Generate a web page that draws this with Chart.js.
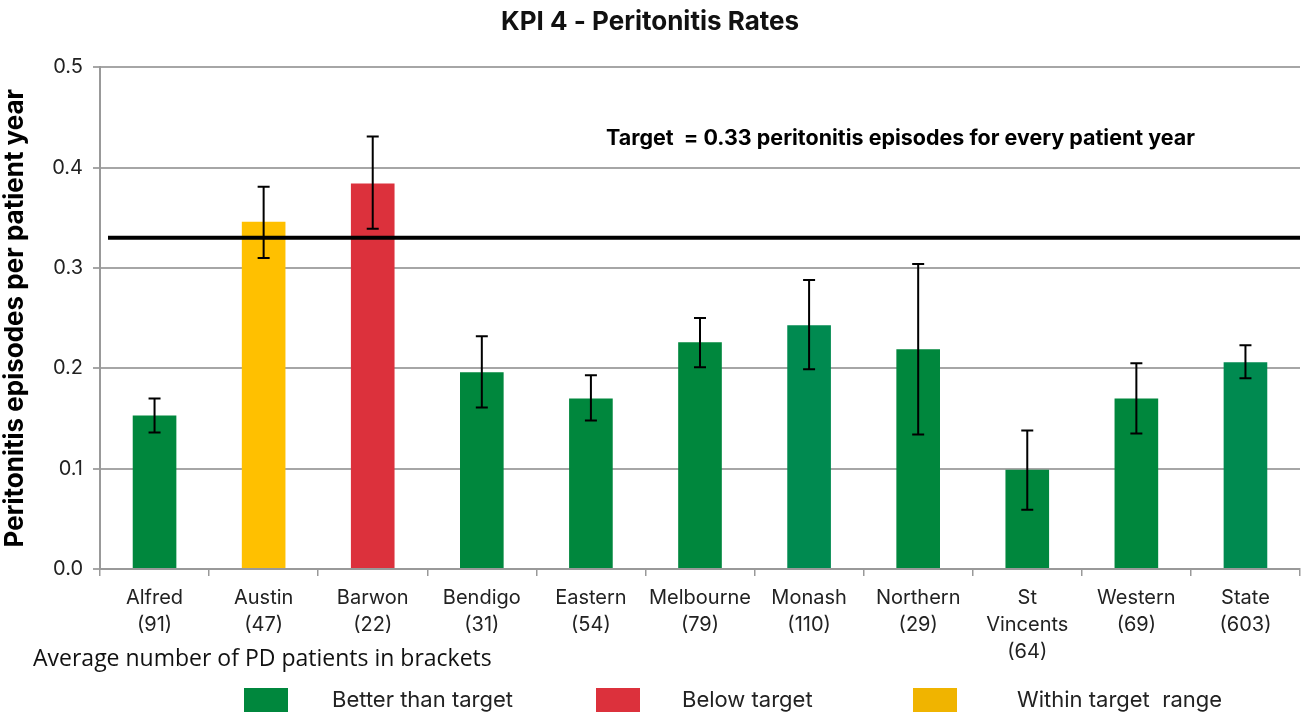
<!DOCTYPE html>
<html>
<head>
<meta charset="utf-8">
<script src="https://cdn.jsdelivr.net/npm/chart.js@4.4.0/dist/chart.umd.min.js"></script>
<style>
  body { margin: 0; background: #fff; }
  #wrap { position: relative; width: 1303px; height: 713px; }
  #note { position: absolute; left: 33px; top: 641px; font: 23px "Liberation Sans Narrow", "Open Sans", sans-serif; color: #111; }
  .key { position: absolute; top: 688px; width: 44px; height: 24px; }
  .keyText { position: absolute; top: 686px; font: 22px Inter, sans-serif; color: #222; }
</style>
</head>
<body>
<div id="wrap">
  <canvas id="kpiChart" width="1303" height="713"></canvas>
  <div id="note">Average number of PD patients in brackets</div>
  <div class="key" style="left:244px;background:#00873D"></div>
  <div class="keyText" style="left:332px">Better than target</div>
  <div class="key" style="left:596px;background:#DC313C"></div>
  <div class="keyText" style="left:682px">Below target</div>
  <div class="key" style="left:913px;background:#F0B400"></div>
  <div class="keyText" style="left:1017px">Within target&nbsp; range</div>
</div>
<script>
const units = ['Alfred', 'Austin', 'Barwon', 'Bendigo', 'Eastern', 'Melbourne', 'Monash', 'Northern', 'St Vincents', 'Western', 'State'];
const patients = [91, 47, 22, 31, 54, 79, 110, 29, 64, 69, 603];
const rates = [0.153, 0.346, 0.384, 0.196, 0.170, 0.226, 0.243, 0.219, 0.099, 0.170, 0.206];
const ciLow = [0.136, 0.310, 0.339, 0.161, 0.148, 0.201, 0.199, 0.134, 0.059, 0.135, 0.190];
const ciHigh = [0.170, 0.381, 0.431, 0.232, 0.193, 0.250, 0.288, 0.304, 0.138, 0.205, 0.223];
const status = ['better', 'within', 'below', 'better', 'better', 'better', 'better', 'better', 'better', 'better', 'better'];
const target = 0.33;

const statusColors = { better: '#00873D', within: '#FFC000', below: '#DC313C' };
const shade = { Monash: '#008A50', State: '#008A50' };   // these two came out a bit bluer in the original

const labels = units.map((u, i) => {
    if (u === 'St Vincents') return [...u.split(' '), `(${patients[i]})`];
    return [u, `(${patients[i]})`];
});
const barColors = units.map((u, i) => shade[u] || statusColors[status[i]]);

const chartFont = 'Inter, sans-serif';

const extras = {
    id: 'extras',
    afterDatasetsDraw(chart) {
        const { ctx, chartArea, scales: { x, y } } = chart;
        ctx.save();

        // target line
        let ty = y.getPixelForValue(target);
        ctx.strokeStyle = '#000';
        ctx.lineWidth = 4;
        ctx.beginPath();
        ctx.moveTo(chartArea.left + 8, ty);
        ctx.lineTo(chartArea.right, ty);
        ctx.stroke();

        // error bars
        ctx.lineWidth = 2;
        units.forEach((u, i) => {
            let cx = x.getPixelForValue(i);
            let top = y.getPixelForValue(ciHigh[i]);
            let bot = y.getPixelForValue(ciLow[i]);
            ctx.beginPath();
            ctx.moveTo(cx, top); ctx.lineTo(cx, bot);
            ctx.moveTo(cx - 6, top); ctx.lineTo(cx + 6, top);
            ctx.moveTo(cx - 6, bot); ctx.lineTo(cx + 6, bot);
            ctx.stroke();
        });

        // target label - the original uses a condensed bold face, fit it to the same width
        let txt = 'Target  = ' + target + ' peritonitis episodes for every patient year';
        ctx.fillStyle = '#000';
        ctx.font = 'bold 21px ' + chartFont;
        ctx.textBaseline = 'middle';
        let w = ctx.measureText(txt).width;
        let ly = y.getPixelForValue(0.429);
        ctx.translate(606, ly);
        ctx.scale(589 / w, 1);
        ctx.fillText(txt, 0, 0);
        ctx.restore();
    }
};

const ctx = document.getElementById('kpiChart').getContext('2d');
new Chart(ctx, {
    type: 'bar',
    data: {
        labels: labels,
        datasets: [{
            label: 'Peritonitis rate',
            data: rates,
            backgroundColor: barColors,
            categoryPercentage: 1,
            barPercentage: 0.4,
        }]
    },
    options: {
        responsive: false,
        animation: false,
        layout: { padding: { left: 0, right: 3, top: 0, bottom: 0 } },
        plugins: {
            legend: { display: false },
            tooltip: { enabled: false },
            title: {
                display: true,
                text: 'KPI 4 - Peritonitis Rates',
                color: '#111',
                font: { family: chartFont, size: 26, weight: 'bold' },
                padding: { top: 7, bottom: 29 }
            }
        },
        scales: {
            x: {
                grid: { drawOnChartArea: false, color: '#999', tickLength: 7, lineWidth: 1.5 },
                border: { color: '#999', width: 2 },
                ticks: {
                    color: '#222',
                    font: { family: chartFont, size: 20, lineHeight: 1.35 },
                    padding: 8,
                    maxRotation: 0,
                    autoSkip: false
                },
                afterFit(scale) { scale.height = 144; }
            },
            y: {
                min: 0,
                max: 0.5,
                ticks: {
                    stepSize: 0.1,
                    color: '#222',
                    padding: 10,
                    font: { family: chartFont, size: 20 },
                    callback: v => v.toFixed(1)
                },
                grid: { color: '#a6a6a6', lineWidth: 2, tickLength: 7 },
                border: { color: '#999', width: 2 },
                title: {
                    display: true,
                    text: 'Peritonitis episodes per patient year',
                    color: '#000',
                    font: { family: chartFont, size: 26, weight: 'bold' },
                    padding: { top: 0, bottom: 2 }
                },
                afterFit(scale) { scale.width = 100; }
            }
        }
    },
    plugins: [extras]
});
</script>
</body>
</html>
